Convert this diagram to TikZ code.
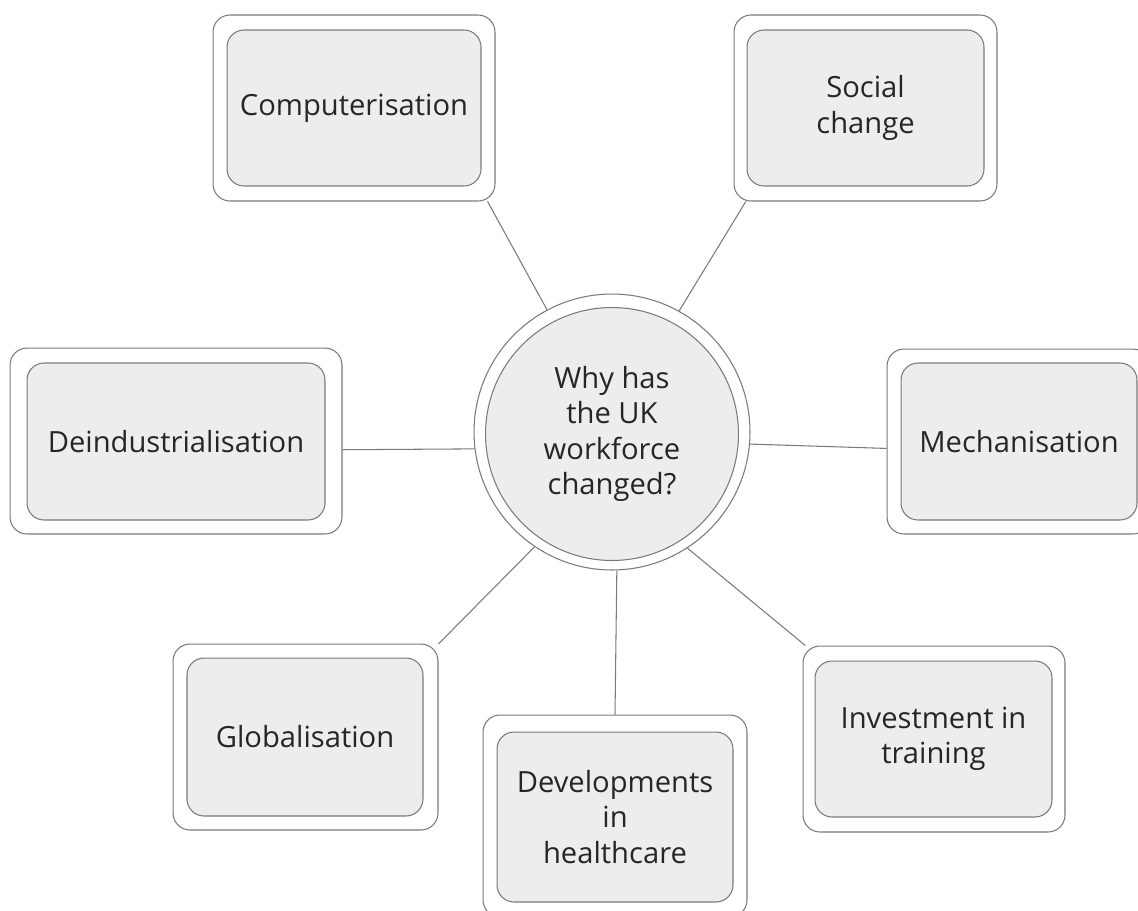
\documentclass[tikz,border=0pt]{standalone}
\usepackage{fontspec}
\setmainfont{Open Sans}
\usepackage{tikz}

\definecolor{edgegray}{HTML}{7A7A7A}
\definecolor{boxgray}{HTML}{EDEDED}
\definecolor{textgray}{HTML}{262626}

\begin{document}
\begin{tikzpicture}[x=0.02cm,y=-0.02cm,
    outerbox/.style 2 args={draw=edgegray, line width=0.6pt, fill=white, rounded corners=0.34cm,
        minimum width=#1, minimum height=#2, inner sep=0pt},
    innerbox/.style 2 args={draw=edgegray, line width=0.6pt, fill=boxgray, rounded corners=0.34cm,
        minimum width=#1, minimum height=#2, inner sep=0pt, align=center, text=textgray,
        font=\fontsize{16.6}{20.2}\selectfont},
    link/.style={draw=edgegray, line width=0.6pt}]
        \useasboundingbox (0,0) rectangle (1138,910);
        \clip (0,0) rectangle (1138,910);
        % hub
        \node[circle, draw=edgegray, line width=0.6pt, fill=white, minimum size=5.52cm] at (612,432) (hub){};
        \node[circle, draw=edgegray, line width=0.6pt, fill=boxgray, minimum size=5.06cm, inner sep=0pt,
            align=center, text=textgray, font=\fontsize{16.6}{20.2}\selectfont] at (612,434) (hubin){Why has\\the UK\\workforce\\changed?};
        % outer frames
        \node[outerbox={5.64cm}{3.72cm}] at (354,108) (compo){};
        \node[outerbox={5.26cm}{3.72cm}] at (865.5,108) (socio){};
        \node[outerbox={6.64cm}{3.72cm}] at (176,441) (deindo){};
        \node[outerbox={5.26cm}{3.70cm}] at (1018.5,441.5) (mecho){};
        \node[outerbox={5.30cm}{3.72cm}] at (305.5,737) (globo){};
        \node[outerbox={5.28cm}{4.04cm}] at (615,816) (devo){};
        \node[outerbox={5.24cm}{3.72cm}] at (934,739) (invo){};
        % inner boxes with text
        \node[innerbox={5.08cm}{3.12cm}] at (354,108) (comp){Computerisation};
        \node[innerbox={4.74cm}{3.12cm}] at (865.5,108) (soc){Social\\change};
        \node[innerbox={5.96cm}{3.14cm}] at (176,441.5) (deind){Deindustrialisation};
        \node[innerbox={4.72cm}{3.14cm}] at (1019,441.5) (mech){Mechanisation};
        \node[innerbox={4.72cm}{3.16cm}] at (305,737) (glob){Globalisation};
        \node[innerbox={4.72cm}{3.40cm}] at (615,817) (dev){Developments\\in\\healthcare};
        \node[innerbox={4.74cm}{3.12cm}] at (933.5,739) (inv){Investment in\\training};
        % spokes
        \draw[link] (hub.118.8) -- (compo.-35.4);
        \draw[link] (hub.61.6) -- (socio.-142.8);
        \draw[link] (hub.187) -- (deindo.-3.4);
        \draw[link] (hub.-5.8) -- (mecho.183.3);
        \draw[link] (hub.236.4) -- (globo.35.3);
        \draw[link] (hub.-88.8) -- (devo.north);
        \draw[link] (hub.-57.9) -- (invo.144.8);
      \end{tikzpicture}
\end{document}
